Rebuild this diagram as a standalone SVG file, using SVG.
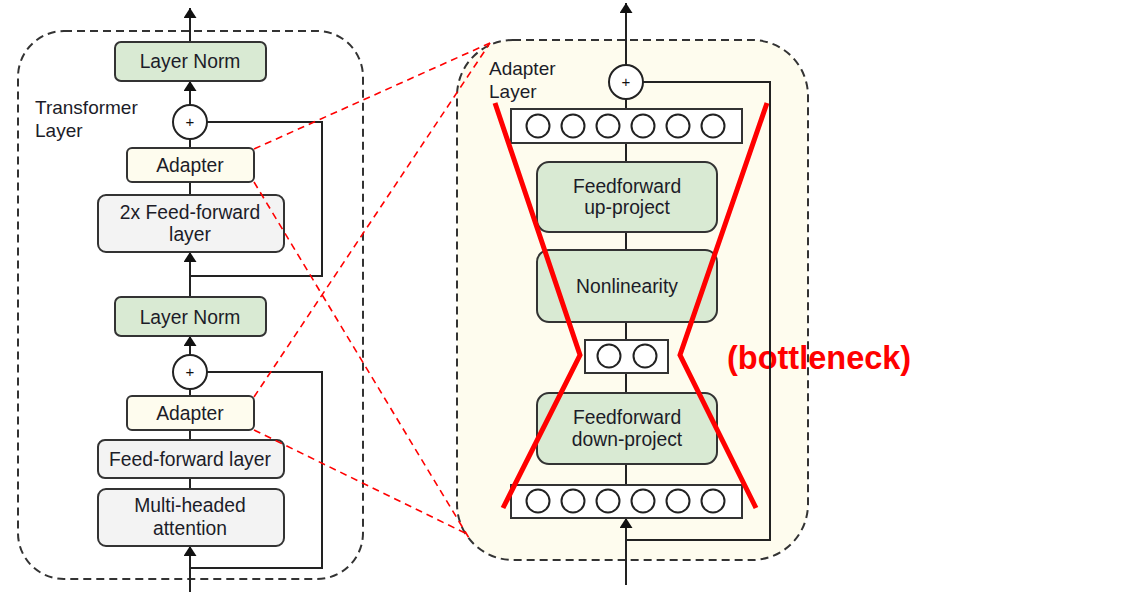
<svg xmlns="http://www.w3.org/2000/svg" width="1140" height="600" viewBox="0 0 1140 600">
<defs>
<marker id="arr" viewBox="0 0 10 13" refX="10" refY="6.5" markerWidth="10" markerHeight="13" markerUnits="userSpaceOnUse" orient="auto">
<path d="M0,0 L10,6.5 L0,13 z" fill="#111"/>
</marker>
<style>
.lbl{font-family:"Liberation Sans",Arial,sans-serif;font-size:19.3px;fill:#1c1c28;text-anchor:middle}
.cap{font-family:"Liberation Sans",Arial,sans-serif;font-size:19px;fill:#1c1c28}
.plus{font-family:"Liberation Sans",Arial,sans-serif;font-size:15px;fill:#111;text-anchor:middle}
.green{fill:#d9ead3;stroke:#333;stroke-width:2}
.gray{fill:#f3f3f3;stroke:#333;stroke-width:2}
.cream{fill:#fefcee;stroke:#333;stroke-width:2}
.row{fill:#fff;stroke:#333;stroke-width:2}
.neuron{fill:#fff;stroke:#222;stroke-width:2}
.circ{fill:#fff;stroke:#222;stroke-width:2}
.wire{fill:none;stroke:#222;stroke-width:2}
.frame{fill:none;stroke:#333;stroke-width:2;stroke-dasharray:8,5}
.zoom{fill:none;stroke:#ff0000;stroke-width:1.6;stroke-dasharray:7,5}
.neck{fill:none;stroke:#ff0000;stroke-width:5;stroke-linejoin:miter}
</style>
</defs>

<!-- frames -->
<g id="transformer-frame">
<rect class="frame" x="18" y="31" width="345" height="548" rx="46"/>
<text class="cap" x="35" y="114">Transformer</text>
<text class="cap" x="35" y="137">Layer</text>
</g>
<g id="adapter-frame">
<rect x="457" y="40" width="351" height="520" rx="56" fill="#fefcee" stroke="#333" stroke-width="2" stroke-dasharray="8,5"/>
<text class="cap" x="489" y="75">Adapter</text>
<text class="cap" x="489" y="98">Layer</text>
</g>

<g id="bottleneck-label">
<text x="727" y="369" font-family="'Liberation Sans',Arial,sans-serif" font-size="32.5" font-weight="bold" fill="#ff0000">(bottleneck)</text>
</g>

<!-- connectors -->
<g id="connectors">
<line class="wire" x1="190" y1="42" x2="190" y2="8" marker-end="url(#arr)"/>
<line class="wire" x1="190" y1="105" x2="190" y2="81" marker-end="url(#arr)"/>
<line class="wire" x1="190" y1="139" x2="190" y2="148"/>
<line class="wire" x1="190" y1="182" x2="190" y2="195"/>
<line class="wire" x1="190" y1="297" x2="190" y2="252" marker-end="url(#arr)"/>
<path class="wire" d="M207,122 H322 V276 H190"/>
<line class="wire" x1="190" y1="355" x2="190" y2="336" marker-end="url(#arr)"/>
<line class="wire" x1="190" y1="389" x2="190" y2="396"/>
<line class="wire" x1="190" y1="430" x2="190" y2="440"/>
<line class="wire" x1="190" y1="478" x2="190" y2="489"/>
<line class="wire" x1="190" y1="592" x2="190" y2="546" marker-end="url(#arr)"/>
<path class="wire" d="M207,372 H322 V568 H190"/>

<line class="wire" x1="626" y1="65" x2="626" y2="3" marker-end="url(#arr)"/>
<line class="wire" x1="626" y1="99" x2="626" y2="109"/>
<line class="wire" x1="626" y1="143" x2="626" y2="162"/>
<line class="wire" x1="626" y1="232" x2="626" y2="250"/>
<line class="wire" x1="626" y1="322" x2="626" y2="340"/>
<line class="wire" x1="626" y1="373" x2="626" y2="393"/>
<line class="wire" x1="626" y1="464" x2="626" y2="485"/>
<line class="wire" x1="626" y1="585" x2="626" y2="518" marker-end="url(#arr)"/>
<path class="wire" d="M643,82 H770 V540 H626"/>
</g>

<!-- left nodes -->
<g id="layernorm-top">
<rect class="green" x="115" y="42" width="151" height="39" rx="6"/>
<text class="lbl" x="190" y="68">Layer Norm</text>
</g>
<g id="add-top">
<circle class="circ" cx="190" cy="122" r="17"/>
<text class="plus" x="190" y="127">+</text>
</g>
<g id="adapter-top">
<rect class="cream" x="127" y="148" width="127" height="34" rx="5"/>
<text class="lbl" x="190" y="172">Adapter</text>
</g>
<g id="ff2x">
<rect class="gray" x="98" y="195" width="186" height="57" rx="8"/>
<text class="lbl" x="190" y="219">2x Feed-forward</text>
<text class="lbl" x="190" y="241">layer</text>
</g>
<g id="layernorm-bottom">
<rect class="green" x="115" y="297" width="151" height="39" rx="6"/>
<text class="lbl" x="190" y="324">Layer Norm</text>
</g>
<g id="add-bottom">
<circle class="circ" cx="190" cy="372" r="17"/>
<text class="plus" x="190" y="377">+</text>
</g>
<g id="adapter-bottom">
<rect class="cream" x="127" y="396" width="127" height="34" rx="5"/>
<text class="lbl" x="190" y="420">Adapter</text>
</g>
<g id="ff">
<rect class="gray" x="98" y="440" width="186" height="38" rx="7"/>
<text class="lbl" x="190" y="466">Feed-forward layer</text>
</g>
<g id="mha">
<rect class="gray" x="98" y="489" width="186" height="57" rx="8"/>
<text class="lbl" x="190" y="512">Multi-headed</text>
<text class="lbl" x="190" y="535">attention</text>
</g>

<!-- right nodes -->
<g id="add-adapter">
<circle class="circ" cx="626" cy="82" r="17"/>
<text class="plus" x="626" y="87">+</text>
</g>
<g id="row-top">
<rect class="row" x="511" y="109" width="231" height="34"/>
<circle class="neuron" cx="538" cy="126" r="11.5"/>
<circle class="neuron" cx="573" cy="126" r="11.5"/>
<circle class="neuron" cx="608" cy="126" r="11.5"/>
<circle class="neuron" cx="643" cy="126" r="11.5"/>
<circle class="neuron" cx="678" cy="126" r="11.5"/>
<circle class="neuron" cx="713" cy="126" r="11.5"/>
</g>
<g id="up-project">
<rect class="green" x="537" y="162" width="180" height="70" rx="12"/>
<text class="lbl" x="627" y="193">Feedforward</text>
<text class="lbl" x="627" y="214">up-project</text>
</g>
<g id="nonlinearity">
<rect class="green" x="537" y="250" width="180" height="72" rx="12"/>
<text class="lbl" x="627" y="293">Nonlinearity</text>
</g>
<g id="row-bottleneck">
<rect class="row" x="585" y="340" width="83" height="33"/>
<circle class="neuron" cx="609" cy="356" r="11.5"/>
<circle class="neuron" cx="645" cy="356" r="11.5"/>
</g>
<g id="down-project">
<rect class="green" x="537" y="393" width="180" height="71" rx="12"/>
<text class="lbl" x="627" y="424">Feedforward</text>
<text class="lbl" x="627" y="446">down-project</text>
</g>
<g id="row-bottom">
<rect class="row" x="511" y="485" width="231" height="33"/>
<circle class="neuron" cx="538" cy="501" r="11.5"/>
<circle class="neuron" cx="573" cy="501" r="11.5"/>
<circle class="neuron" cx="608" cy="501" r="11.5"/>
<circle class="neuron" cx="643" cy="501" r="11.5"/>
<circle class="neuron" cx="678" cy="501" r="11.5"/>
<circle class="neuron" cx="713" cy="501" r="11.5"/>
</g>

<!-- zoom lines -->
<g id="zoom-lines">
<line class="zoom" x1="254" y1="149" x2="490" y2="43"/>
<line class="zoom" x1="254" y1="182" x2="469" y2="538"/>
<line class="zoom" x1="254" y1="397" x2="490" y2="43"/>
<line class="zoom" x1="254" y1="430" x2="469" y2="535"/>
</g>

<!-- bottleneck marks -->
<g id="bottleneck">
<polyline class="neck" points="495,103 580,355 503,508"/>
<polyline class="neck" points="767,103 680,355 756,508"/>
</g>
</svg>
